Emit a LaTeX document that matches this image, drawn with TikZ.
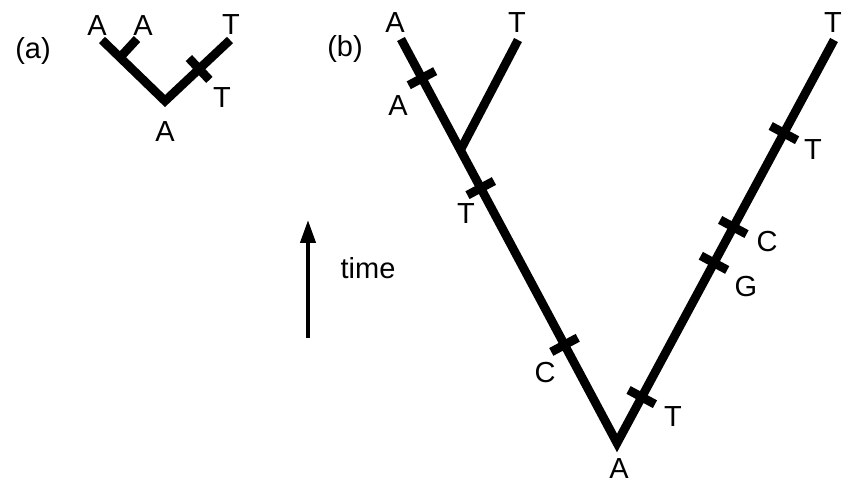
\documentclass[tikz,border=0pt]{standalone}
\usepackage{fontspec}
\setmainfont{Liberation Sans}
\usetikzlibrary{arrows.meta,calc}

\begin{document}
\begin{tikzpicture}[x=0.02cm,y=-0.02cm,font=\fontsize{16.5}{19}\selectfont,
  branch/.style={line width=5pt},
  mut/.style={sloped,fill=black,inner sep=0pt,minimum width=5pt,minimum height=0.6cm}]
\useasboundingbox (0,0) rectangle (847,484);
\node (panela) at (33,51) {(a)};
\coordinate (aroot) at (165,101);
\coordinate (aA1) at (102,40);
\coordinate (aA2) at (137,39);
\coordinate (aT) at (230,40);
\coordinate (asplit) at ($(aroot)!0.714!(aA1)$);
\draw[branch] (aA1) -- (aroot) -- node[mut,pos=0.525] (amut) {} (aT);
\draw[branch] (asplit) -- (aA2);
\node (aA1lab) at (97,26) {A};
\node (aA2lab) at (143,26) {A};
\node (aTlab) at (231,25) {T};
\node (amutlab) at (222,98) {T};
\node (arootlab) at (165,132) {A};
\node (panelb) at (345,49) {(b)};
\coordinate (broot) at (617,443);
\coordinate (bA) at (401,39);
\coordinate (bT1) at (518,40);
\coordinate (bT2) at (834,40);
\coordinate (bsplit) at ($(broot)!0.725!(bA)$);
\draw[branch] (bA) -- node[mut,pos=0.097]{} node[mut,pos=0.369]{} node[mut,pos=0.757]{} (broot)
  -- node[mut,pos=0.114]{} node[mut,pos=0.447]{} node[mut,pos=0.536]{} node[mut,pos=0.769]{} (bT2);
\draw[branch] (bsplit) -- (bT1);
\node (bAlab) at (395,23) {A};
\node (bT1lab) at (517,23) {T};
\node (bT2lab) at (833,23) {T};
\node (brootlab) at (619,469) {A};
\node (bmut1) at (398,106) {A};
\node (bmut2) at (466,214) {T};
\node (bmut3) at (545,373) {C};
\node (bmut4) at (673,417) {T};
\node (bmut5) at (746,287) {G};
\node (bmut6) at (767,242) {C};
\node (bmut7) at (813,150) {T};
\coordinate (tbot) at (308,338);
\coordinate (ttop) at (308,220);
\draw[line width=2.3pt,-{Triangle[length=13pt,width=8.5pt]}] (tbot) -- (ttop);
\node (time) at (368,268) {time};
\end{tikzpicture}
\end{document}
